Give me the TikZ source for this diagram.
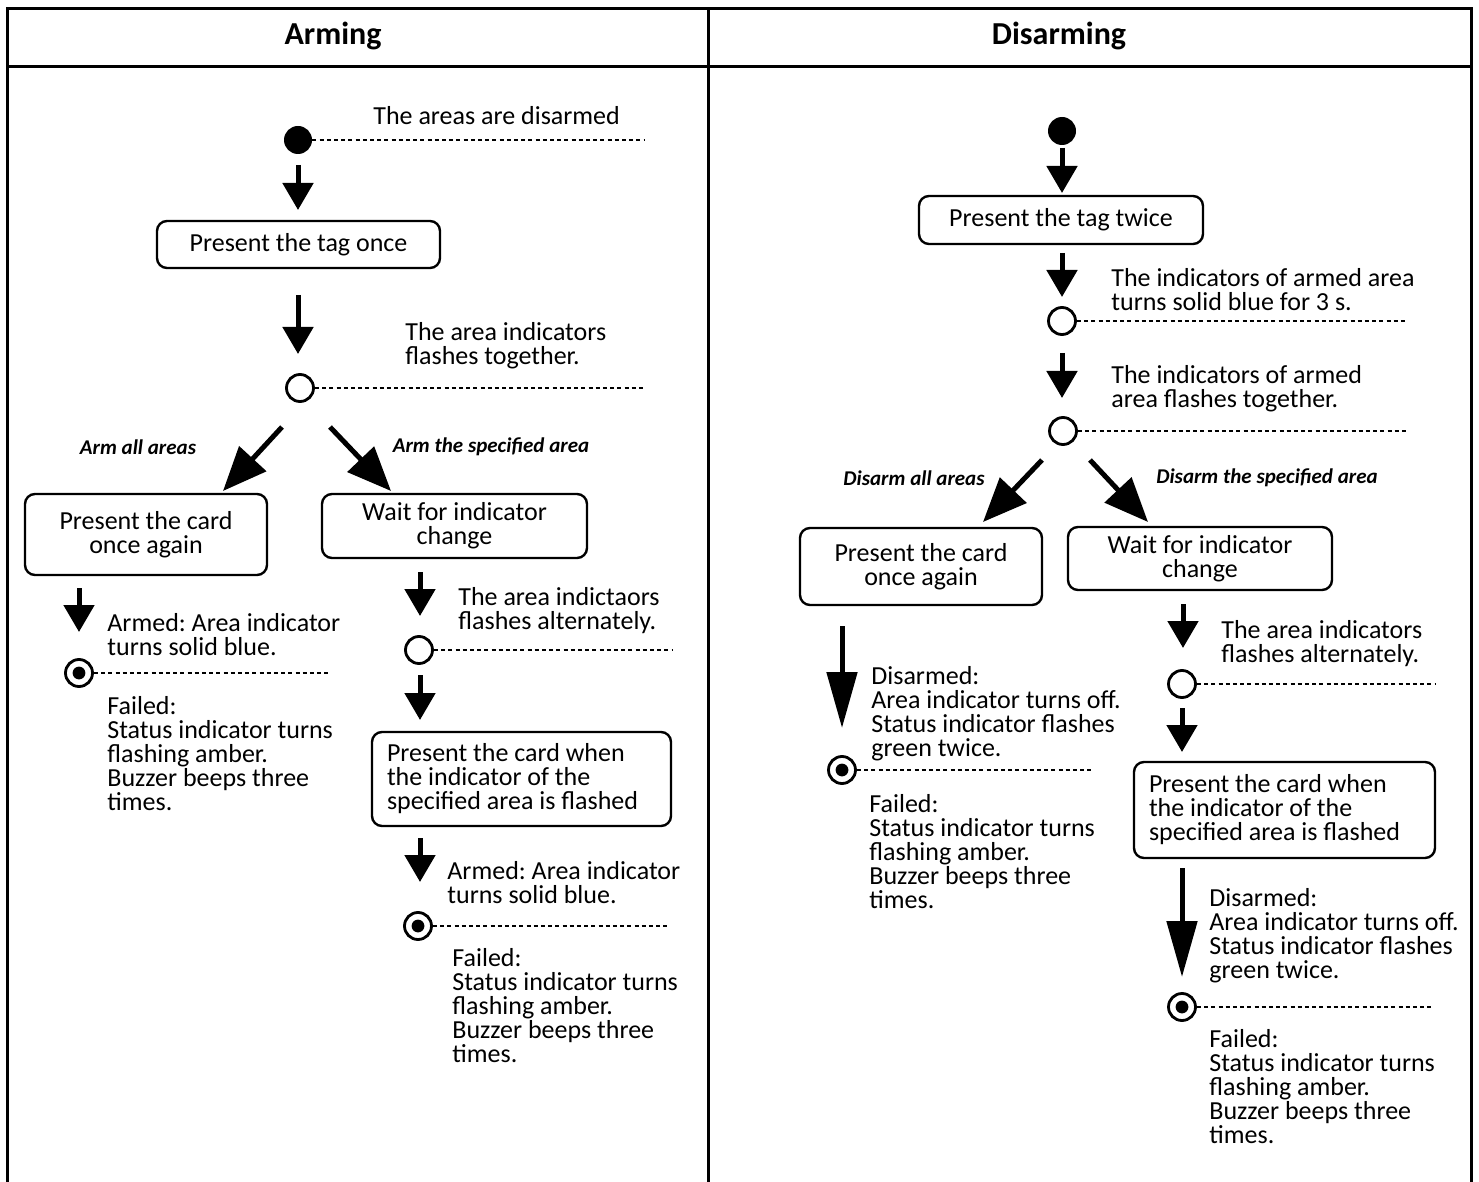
\documentclass[tikz,border=0pt]{standalone}
\usepackage{fontspec}
\setmainfont{Carlito}
\usetikzlibrary{arrows.meta}
\begin{document}
\frenchspacing
\begin{tikzpicture}[x=0.5pt,y=-0.5pt,
  frame/.style={line width=1.5pt},
  box/.style={draw, line width=1.2pt, rounded corners=5pt, font=\fontsize{13}{12}\selectfont\frenchspacing, align=center, inner sep=0pt},
  lbox/.style={draw, line width=1.2pt, rounded corners=5pt, font=\fontsize{13}{12}\selectfont\frenchspacing, align=flush left, inner xsep=7.5pt, inner ysep=0pt},
  txt/.style={font=\fontsize{13}{12}\selectfont\frenchspacing, inner sep=0pt, align=flush left, anchor=west},
  headtxt/.style={font=\fontsize{16}{19}\selectfont\bfseries},
  branch/.style={font=\fontsize{10.5}{12}\selectfont\bfseries\itshape},
  startdot/.style={circle, fill=black, minimum size=14pt, inner sep=0pt},
  state/.style={circle, draw, line width=1.4pt, fill=white, minimum size=13.5pt, inner sep=0pt},
  endst/.style={circle, draw, line width=1.4pt, fill=white, minimum size=13.5pt, inner sep=0pt},
  enddot/.style={fill=black},
  dotline/.style={line width=1pt, dash pattern=on 2pt off 1.6pt},
  arr/.style={line width=2.5pt, -{Triangle[length=13.5pt,width=15pt]}},
  longarr/.style={line width=2.5pt, -{Triangle[length=28pt,width=15pt]}},
  diag/.style={line width=2.5pt, -{Triangle[length=22pt,width=18pt]}}
]
\useasboundingbox (0,0) rectangle (1479,1182);
% frame
\draw[frame] (7,1190) -- (7,9) -- (1471,9) -- (1471,1190);
\draw[frame] (7,67) -- (1471,67);
\draw[frame] (708,9) -- (708,1190);
\node[headtxt] (hA) at (333,36) {Arming};
\node[headtxt] (hD) at (1059,36) {Disarming};

% ===== Arming =====
\node[startdot] (ls) at (298,140) {};
\coordinate (lsd) at (645,140);
\draw[dotline] (ls.east) -- (lsd);
\node[txt] (lt1) at (373,116) {The areas are disarmed};

\coordinate (la1s) at (298,165); \coordinate (la1e) at (298,210);
\draw[arr] (la1s) -- (la1e);
\node[box, minimum width=141.5pt, minimum height=23.5pt] (lb1) at (298.5,244.5) {Present the tag once};

\coordinate (la2s) at (298,295); \coordinate (la2e) at (298,354);
\draw[arr] (la2s) -- (la2e);
\node[txt] (lt2) at (405,346) {The area indicators\\flashes together.};
\node[state] (lc1) at (300,388) {};
\coordinate (lc1d) at (645,388);
\draw[dotline] (lc1.east) -- (lc1d);

\coordinate (ld1s) at (282,427); \coordinate (ld1e) at (223,491);
\draw[diag] (ld1s) -- (ld1e);
\coordinate (ld2s) at (330,427); \coordinate (ld2e) at (391,491);
\draw[diag] (ld2s) -- (ld2e);
\node[branch] (lbr1) at (138,447) {Arm all areas};
\node[branch] (lbr2) at (491,447) {Arm the specified area};

\node[box, minimum width=121pt, minimum height=40.5pt] (lb2) at (146,534.5) {Present the card\\once again};
\node[box, minimum width=132.5pt, minimum height=32pt] (lb3) at (454.5,526) {Wait for indicator\\change};

\coordinate (la3s) at (79,588); \coordinate (la3e) at (79,632);
\draw[arr] (la3s) -- (la3e);
\node[txt] (lt3) at (107,635) {Armed: Area indicator\\turns solid blue.};
\node[endst] (le1) at (79,673) {};
\fill[enddot] (le1.center) circle (3.2pt);
\coordinate (le1d) at (330,673);
\draw[dotline] (le1.east) -- (le1d);
\node[txt] (lt4) at (107,754) {Failed:\\Status indicator turns\\flashing amber.\\Buzzer beeps three\\times.};

\coordinate (la4s) at (420,572); \coordinate (la4e) at (420,616);
\draw[arr] (la4s) -- (la4e);
\node[txt] (lt5) at (458,611) {The area indictaors\\flashes alternately.};
\node[state] (lc2) at (419,650) {};
\coordinate (lc2d) at (672,650);
\draw[dotline] (lc2.east) -- (lc2d);
\coordinate (la5s) at (420,675); \coordinate (la5e) at (420,720);
\draw[arr] (la5s) -- (la5e);
\node[lbox, text width=134.5pt, minimum height=47pt] (lb4) at (521.5,779) {Present the card when\\the indicator of the\\specified area is flashed};
\coordinate (la6s) at (420,838); \coordinate (la6e) at (420,882);
\draw[arr] (la6s) -- (la6e);
\node[txt] (lt6) at (447,883) {Armed: Area indicator\\turns solid blue.};
\node[endst] (le2) at (418,926) {};
\fill[enddot] (le2.center) circle (3.2pt);
\coordinate (le2d) at (667,926);
\draw[dotline] (le2.east) -- (le2d);
\node[txt] (lt7) at (452,1006) {Failed:\\Status indicator turns\\flashing amber.\\Buzzer beeps three\\times.};

% ===== Disarming =====
\node[startdot] (rs) at (1062,131) {};
\coordinate (ra1s) at (1062,148); \coordinate (ra1e) at (1062,193);
\draw[arr] (ra1s) -- (ra1e);
\node[box, minimum width=142pt, minimum height=24pt] (rb1) at (1061,220) {Present the tag twice};
\coordinate (ra2s) at (1062,253); \coordinate (ra2e) at (1062,297);
\draw[arr] (ra2s) -- (ra2e);
\node[txt] (rt1) at (1111,290) {The indicators of armed area\\turns solid blue for 3 s.};
\node[state] (rc1) at (1062,321) {};
\coordinate (rc1d) at (1407,321);
\draw[dotline] (rc1.east) -- (rc1d);
\coordinate (ra3s) at (1062,353); \coordinate (ra3e) at (1062,398);
\draw[arr] (ra3s) -- (ra3e);
\node[txt] (rt2) at (1111,389) {The indicators of armed\\area flashes together.};
\node[state] (rc2) at (1063,431) {};
\coordinate (rc2d) at (1407,431);
\draw[dotline] (rc2.east) -- (rc2d);

\coordinate (rd1s) at (1042,460); \coordinate (rd1e) at (983,522);
\draw[diag] (rd1s) -- (rd1e);
\coordinate (rd2s) at (1090,460); \coordinate (rd2e) at (1148,522);
\draw[diag] (rd2s) -- (rd2e);
\node[branch] (rbr1) at (914,478) {Disarm all areas};
\node[branch] (rbr2) at (1267,478) {Disarm the specified area};

\node[box, minimum width=121pt, minimum height=38.5pt] (rb2) at (921,566.5) {Present the card\\once again};
\node[box, minimum width=132pt, minimum height=31.5pt] (rb3) at (1200,558.5) {Wait for indicator\\change};

\coordinate (ra4s) at (842,626); \coordinate (ra4e) at (842,728);
\draw[longarr] (ra4s) -- (ra4e);
\node[txt] (rt3) at (871,714) {Disarmed:\\Area indicator turns off.\\Status indicator flashes\\green twice.};
\node[endst] (re1) at (842,770) {};
\fill[enddot] (re1.center) circle (3.2pt);
\coordinate (re1d) at (1092,770);
\draw[dotline] (re1.east) -- (re1d);
\node[txt] (rt4) at (869,852) {Failed:\\Status indicator turns\\flashing amber.\\Buzzer beeps three\\times.};

\coordinate (ra5s) at (1183,604); \coordinate (ra5e) at (1183,648);
\draw[arr] (ra5s) -- (ra5e);
\node[txt] (rt5) at (1221,644) {The area indicators\\flashes alternately.};
\node[state] (rc3) at (1182,684) {};
\coordinate (rc3d) at (1435,684);
\draw[dotline] (rc3.east) -- (rc3d);
\coordinate (ra6s) at (1182,708); \coordinate (ra6e) at (1182,752);
\draw[arr] (ra6s) -- (ra6e);
\node[lbox, text width=135.5pt, minimum height=48pt] (rb4) at (1284.5,810) {Present the card when\\the indicator of the\\specified area is flashed};
\coordinate (ra7s) at (1182,868); \coordinate (ra7e) at (1182,977);
\draw[longarr] (ra7s) -- (ra7e);
\node[txt] (rt6) at (1209,936) {Disarmed:\\Area indicator turns off.\\Status indicator flashes\\green twice.};
\node[endst] (re2) at (1182,1007) {};
\fill[enddot] (re2.center) circle (3.2pt);
\coordinate (re2d) at (1432,1007);
\draw[dotline] (re2.east) -- (re2d);
\node[txt] (rt7) at (1209,1087) {Failed:\\Status indicator turns\\flashing amber.\\Buzzer beeps three\\times.};
\end{tikzpicture}
\end{document}
